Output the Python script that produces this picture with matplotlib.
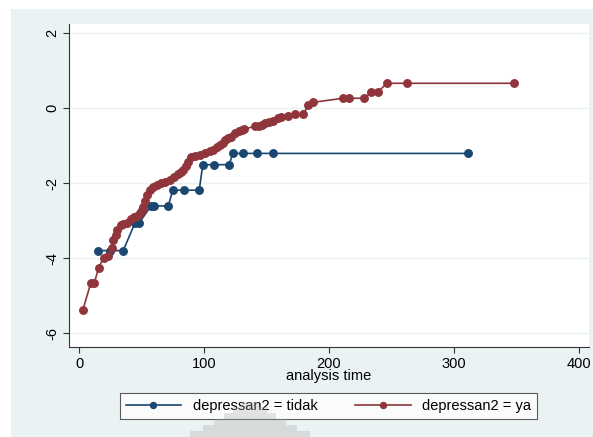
import matplotlib
matplotlib.use("Agg")
import matplotlib.pyplot as plt
from matplotlib.patches import Rectangle, Polygon

plt.rcParams['font.family'] = ['Liberation Sans', 'DejaVu Sans']

# ln(-ln(survival)) against analysis time, one curve per group
t_tidak = [15, 24.8, 35.4, 44.8, 48.2, 57.6, 60.2, 71.4, 75, 83.8, 96.2,
           99, 107.8, 120.2, 123, 131.4, 142.2, 155.4, 311.4]
y_tidak = [-3.80, -3.80, -3.80, -3.06, -3.06, -2.61, -2.61, -2.61, -2.19, -2.19, -2.19,
           -1.51, -1.51, -1.51, -1.21, -1.21, -1.21, -1.21, -1.21]

t_ya = [3.0, 9.4, 12.2, 15.6, 19.6, 22.8, 26, 27.4, 29.2, 30.6, 33.2, 35.4, 38.4,
        41.2, 44, 46.4, 48.8, 50.2, 51, 52.8, 54.6, 56.8, 59.4, 62.2, 65.2, 68.8,
        72.8, 76, 79.2, 81.6, 83.4, 85.2, 87.2, 89.4, 92.8, 96.8, 100.8, 104.8,
        107.4, 110.2, 112.8, 114.8, 116.8, 119.2, 121.6, 124.8, 127.6, 130.2, 132,
        140.8, 143.6, 146.4, 148.8, 152, 155.4, 159.2, 161.6, 167.4, 172.8, 179.4,
        183.4, 186.8, 211, 216, 228.2, 233.6, 239, 246.2, 262.2, 348.2]
y_ya = [-5.39, -4.67, -4.67, -4.27, -3.99, -3.94, -3.74, -3.53, -3.39, -3.25, -3.12,
        -3.08, -3.07, -2.97, -2.91, -2.88, -2.81, -2.72, -2.63, -2.48, -2.32, -2.19,
        -2.10, -2.05, -2.01, -1.96, -1.92, -1.84, -1.77, -1.71, -1.65, -1.55, -1.43,
        -1.31, -1.28, -1.24, -1.19, -1.14, -1.11, -1.05, -0.99, -0.92, -0.85, -0.80,
        -0.76, -0.67, -0.61, -0.59, -0.56, -0.49, -0.48, -0.44, -0.40, -0.37, -0.35,
        -0.27, -0.25, -0.21, -0.16, -0.15, 0.07, 0.15, 0.26, 0.26, 0.26, 0.42, 0.42,
        0.66, 0.66, 0.66]

xticks = [0, 100, 200, 300, 400]
yticks = [-6, -4, -2, 0, 2]

navy = '#1a476f'
maroon = '#90353b'
panel = '#eaf2f3'

fig = plt.figure(figsize=(5.93, 4.37), dpi=100)
fig.patch.set_facecolor('white')
fig.patches.append(Rectangle((11 / 593, 0), 1, 1 - 9 / 437, transform=fig.transFigure,
                             facecolor=panel, edgecolor='none', zorder=-10))

ax = fig.add_axes([69 / 593, 1 - 347 / 437, 520 / 593, 323 / 437])
ax.set_facecolor('white')

ax.plot(t_tidak, y_tidak, '-o', color=navy, lw=1.2, ms=5.4, label='depressan2 = tidak')
ax.plot(t_ya, y_ya, '-o', color=maroon, lw=1.2, ms=5.4, label='depressan2 = ya')

ax.set_xlim(-8, 408)
ax.set_ylim(-6.37, 2.24)
ax.set_xticks(xticks)
ax.set_yticks(yticks)
ax.set_yticklabels([str(v) for v in yticks], rotation=90, va='center')
ax.tick_params(labelsize=10.5, length=4, width=0.8, color='#333333', pad=3)
ax.grid(axis='y', color=panel, lw=1.0)
ax.set_axisbelow(True)
for s in ['top', 'right']:
    ax.spines[s].set_visible(False)
for s in ['left', 'bottom']:
    ax.spines[s].set_color('#333333')
    ax.spines[s].set_linewidth(0.8)

ax.set_xlabel('analysis time', fontsize=10.5, labelpad=-1)

leg = fig.legend(loc='center', bbox_to_anchor=(328.5 / 593, 1 - 406 / 437), ncol=2,
                 fontsize=10.5, frameon=True, fancybox=False, handlelength=3.8,
                 columnspacing=2.6, borderpad=0.4, markerscale=0.8)
leg.get_frame().set_edgecolor('#333333')
leg.get_frame().set_linewidth(0.8)

# faint stepped logo watermark at the bottom
steps = [(190, 437), (190, 431), (203, 431), (203, 425), (214, 425), (214, 419),
         (224, 419), (224, 413), (233, 413), (233, 407), (241, 407), (241, 402),
         (259, 402), (259, 407), (267, 407), (267, 413), (276, 413), (276, 419),
         (286, 419), (286, 425), (297, 425), (297, 431), (310, 431), (310, 437)]
fig.patches.append(Polygon([(x / 593, 1 - y / 437) for x, y in steps],
                           transform=fig.transFigure, facecolor='#a8a8a8',
                           edgecolor='none', alpha=0.3, zorder=10))

fig.savefig('out.png', dpi=100)
